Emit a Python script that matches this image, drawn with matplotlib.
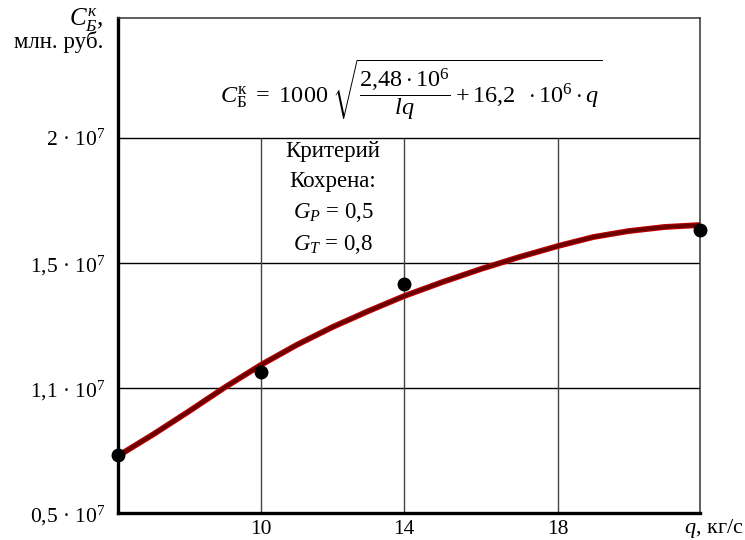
import matplotlib
matplotlib.use("Agg")
import matplotlib.pyplot as plt
import numpy as np

plt.rcParams['font.family'] = ['Liberation Serif', 'DejaVu Serif']
plt.rcParams['mathtext.fontset'] = 'custom'
plt.rcParams['mathtext.rm'] = 'Liberation Serif'
plt.rcParams['mathtext.it'] = 'Liberation Serif:italic'
plt.rcParams['mathtext.bf'] = 'Liberation Serif:bold'

# --- data ---
# fitted curve C(q), q in kg/s, C in rub
curve_q = np.array([6, 7, 8, 9, 10, 11, 12, 13, 14, 15, 16, 17, 18, 19, 20, 21, 22])
curve_c = np.array([0.774, 0.879, 0.990, 1.103, 1.174, 1.238, 1.295, 1.346, 1.394,
                    1.439, 1.481, 1.524, 1.568, 1.604, 1.628, 1.644, 1.652]) * 1e7

# experimental points
pts_q = np.array([6.0, 10.0, 14.0, 22.0])
pts_c = np.array([0.778, 1.151, 1.433, 1.632]) * 1e7

x_ticks = [10, 14, 18]
x_tick_labels = ['10', '14', '18']
y_ticks = [0.5e7, 1.1e7, 1.5e7, 2.0e7]
y_tick_labels = ['0,5 · 10$^{7}$', '1,1 · 10$^{7}$', '1,5 · 10$^{7}$', '2 · 10$^{7}$']

# the grid in the original is hand drawn: equal cells for unequal steps
x_nodes = [6, 10, 14, 18, 22]
x_pos = [0, 143, 286, 440, 582]
y_nodes = [0.5e7, 1.1e7, 1.5e7, 2.0e7, 2.5e7]
y_pos = [0, 1, 2, 3, 4]


def fx(v):
    return np.interp(v, x_nodes, x_pos)


def ix(p):
    return np.interp(p, x_pos, x_nodes)


def fy(v):
    return np.interp(v, y_nodes, y_pos)


def iy(p):
    return np.interp(p, y_pos, y_nodes)


fig = plt.figure(figsize=(7.45, 5.4), dpi=100)
ax = fig.add_axes([118 / 745, 1 - 513 / 540, (700 - 118) / 745, (513 - 18) / 540])
ax.set_xscale('function', functions=(fx, ix))
ax.set_yscale('function', functions=(fy, iy))
ax.set_xlim(6, 22)
ax.set_ylim(0.5e7, 2.48e7)

# grid: horizontal lines full width, vertical ones only below 2e7
for yv in y_ticks[1:]:
    ax.axhline(yv, color='black', lw=1.0, zorder=1)
ax.vlines(x_ticks, 0.5e7, 2.0e7, color='#444444', lw=1.0, zorder=1)

ax.plot(curve_q, curve_c, color='#c00000', lw=4.2, solid_capstyle='butt',
        solid_joinstyle='round', zorder=2)
ax.plot(curve_q, curve_c, color='#6a0000', lw=2.6, solid_capstyle='butt',
        solid_joinstyle='round', zorder=3)
ax.plot(pts_q, pts_c, 'o', color='black', ms=9, clip_on=False, zorder=4)

ax.set_xticks(x_ticks)
ax.set_xticklabels(x_tick_labels, fontsize=15.5)
ax.set_yticks(y_ticks)
ax.set_yticklabels(y_tick_labels, fontsize=15.5)
ax.tick_params(length=0, pad=9)
ax.tick_params(axis='x', pad=5)
ax.minorticks_off()

ax.spines['left'].set_linewidth(2.4)
ax.spines['bottom'].set_linewidth(2.4)
for s in ['top', 'right']:
    ax.spines[s].set_linewidth(1.1)
    ax.spines[s].set_color('#333333')

# formula in the top cell
fig.text(0.552, 1 - 90 / 540,
         r'$C_{\mathrm{Б}}^{\mathrm{к}}\ =\ 1000\;\sqrt{\dfrac{2{,}48\cdot10^6}{lq} + 16{,}2\;\;\cdot10^6\cdot q}$',
         fontsize=17.5, ha='center', va='center')

# Cochran criterion
crit_lines = ['Критерий', 'Кохрена:', r'$G_P$ = 0,5', r'$G_T$ = 0,8']
crit_y = [152, 182, 213, 244]
for line, py in zip(crit_lines, crit_y):
    ax.text((333 - 118) / 582, (513 - py) / 495, line, fontsize=16.5,
            ha='center', va='center', transform=ax.transAxes)

# axis captions
fig.text(103 / 745, 1 - 20 / 540, r'$C_{Б}^{к}$,', fontsize=18, ha='right', va='center')
fig.text(103 / 745, 1 - 48 / 540, 'млн. руб.', fontsize=16.5, ha='right', va='baseline')
fig.text(744 / 745, 1 - 529 / 540, r'$q$, кг/с', fontsize=16, ha='right', va='center')

fig.savefig('out.png', dpi=100)
